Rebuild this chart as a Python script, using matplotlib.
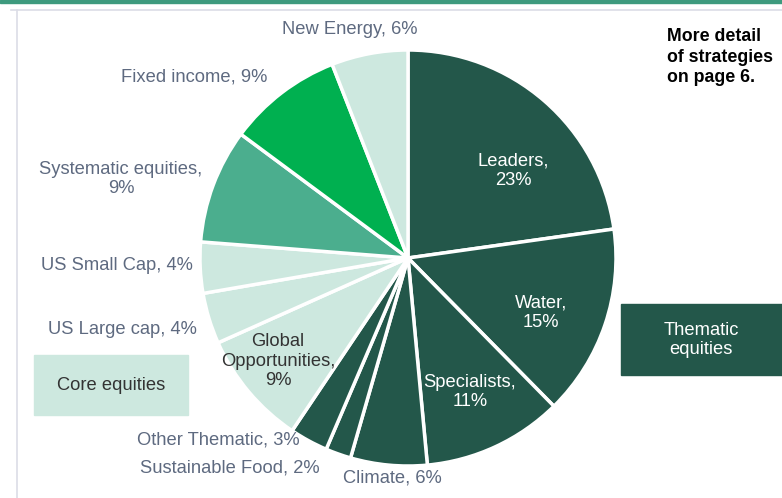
import matplotlib
matplotlib.use("Agg")
import matplotlib.pyplot as plt
from matplotlib.patches import Rectangle
from matplotlib.lines import Line2D

plt.rcParams['font.family'] = ['Liberation Sans', 'DejaVu Sans']

# data
strategies = ['Leaders', 'Water', 'Specialists', 'Climate', 'Sustainable Food',
              'Other Thematic', 'Global Opportunities', 'US Large cap', 'US Small Cap',
              'Systematic equities', 'Fixed income', 'New Energy']
shares = [23, 15, 11, 6, 2, 3, 9, 4, 4, 9, 9, 6]

DARK = '#23574A'
MINT = '#CDE8DF'
MID = '#4BAE8E'
BRIGHT = '#00B050'
colors = [DARK, DARK, DARK, DARK, DARK, DARK, MINT, MINT, MINT, MID, BRIGHT, MINT]

W, H = 782, 498
fig = plt.figure(figsize=(W / 100, H / 100), dpi=100)


def fx(x):
    return x / W


def fy(y):
    return 1 - y / H


# top bar and frame
fig.patches.append(Rectangle((0, fy(3)), 1, 3 / H, transform=fig.transFigure,
                             color='#3E9A7E', zorder=0))
fig.lines.append(Line2D([fx(11), 1], [fy(10.5), fy(10.5)], transform=fig.transFigure,
                        color='#DCDDE6', lw=1.2))
fig.lines.append(Line2D([fx(16.5), fx(16.5)], [fy(10.5), 0], transform=fig.transFigure,
                        color='#DCDDE6', lw=1.2))

# pie
cx, cy, r = 408, 258, 208
ax = fig.add_axes([fx(cx - r), fy(cy + r), 2 * r / W, 2 * r / H])
ax.pie(shares, colors=colors, startangle=90, counterclock=False, radius=1,
       wedgeprops=dict(edgecolor='white', linewidth=2.5))
ax.set_xlim(-1, 1)
ax.set_ylim(-1, 1)
ax.set_aspect('auto')
ax.axis('off')

GREY = '#5E6A80'
fs = 13.2
ls = 1.22
outside = [
    ('New Energy, 6%', 350, 30),
    ('Fixed income, 9%', 194, 77),
    ('Systematic equities,\n9%', 121, 179),
    ('US Small Cap, 4%', 117, 266),
    ('US Large cap, 4%', 122, 329),
    ('Other Thematic, 3%', 218, 440),
    ('Sustainable Food, 2%', 230, 468),
    ('Climate, 6%', 392, 478),
]
for txt, x, y in outside:
    fig.text(fx(x), fy(y), txt, ha='center', va='center', color=GREY, fontsize=fs,
             linespacing=ls)

inside = [
    ('Leaders,\n23%', 513, 171, 'white'),
    ('Water,\n15%', 541, 313, 'white'),
    ('Specialists,\n11%', 470, 392, 'white'),
    ('Global\nOpportunities,\n9%', 278, 361, '#333333'),
]
for txt, x, y, c in inside:
    fig.text(fx(x), fy(y), txt, ha='center', va='center', color=c, fontsize=fs,
             linespacing=ls)

# note
fig.text(fx(667), fy(57), 'More detail\nof strategies\non page 6.', ha='left', va='center',
         color='black', fontsize=12.8, fontweight='bold', linespacing=1.3)

# legend boxes
fig.patches.append(Rectangle((fx(621), fy(375)), 161 / W, 71 / H, transform=fig.transFigure,
                             color=DARK, zorder=1))
fig.text(fx(701), fy(340), 'Thematic\nequities', ha='center', va='center', color='white',
         fontsize=fs, linespacing=ls)
fig.patches.append(Rectangle((fx(34), fy(415)), 154 / W, 60 / H, transform=fig.transFigure,
                             color=MINT, zorder=1))
fig.text(fx(111), fy(385), 'Core equities', ha='center', va='center', color='#333333',
         fontsize=fs)

fig.savefig('out.png', dpi=100)
